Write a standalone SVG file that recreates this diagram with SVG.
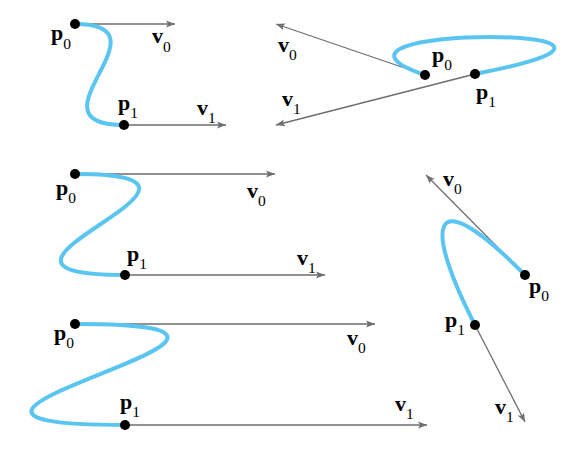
<svg xmlns="http://www.w3.org/2000/svg" width="575" height="450" viewBox="0 0 575 450">
<style>
.vec{stroke:#6e6e6e;stroke-width:1.3;fill:none;marker-end:url(#ah)}
.crv{stroke:#5ac5f0;stroke-width:4;fill:none;stroke-linecap:round}
.dot{fill:#000}
.lb{font-family:"Liberation Serif","Times New Roman",serif;font-weight:bold;font-size:22px;fill:#000}
.sb{font-weight:normal;font-size:15.5px}
</style>
<defs>
<marker id="ah" markerWidth="10" markerHeight="8" refX="9" refY="4" orient="auto" markerUnits="userSpaceOnUse">
<path d="M0,0.5 L9,4 L0,7.5 L2,4 z" fill="#6e6e6e"/>
</marker>
</defs>
<rect width="575" height="450" fill="#fff"/>
<g id="connectors">
<line class="vec" x1="75" y1="24" x2="175" y2="24"/>
<line class="vec" x1="124" y1="125" x2="226" y2="125"/>
<line class="vec" x1="425" y1="75" x2="276" y2="24"/>
<line class="vec" x1="475" y1="74" x2="276" y2="125"/>
<line class="vec" x1="75" y1="174" x2="275" y2="174"/>
<line class="vec" x1="125" y1="275" x2="325" y2="275"/>
<line class="vec" x1="525" y1="275" x2="426" y2="175"/>
<line class="vec" x1="475" y1="325" x2="525" y2="422"/>
<line class="vec" x1="75" y1="324" x2="375" y2="324"/>
<line class="vec" x1="125" y1="425" x2="427" y2="425"/>
<text class="lb" x="152" y="43">v<tspan class="sb" dy="9">0</tspan></text>
<text class="lb" x="197" y="115">v<tspan class="sb" dy="8">1</tspan></text>
<text class="lb" x="278" y="52">v<tspan class="sb" dy="8">0</tspan></text>
<text class="lb" x="282" y="106">v<tspan class="sb" dy="8">1</tspan></text>
<text class="lb" x="247" y="198">v<tspan class="sb" dy="8">0</tspan></text>
<text class="lb" x="297" y="265">v<tspan class="sb" dy="8">1</tspan></text>
<text class="lb" x="443" y="186">v<tspan class="sb" dy="8">0</tspan></text>
<text class="lb" x="495" y="414">v<tspan class="sb" dy="8">1</tspan></text>
<text class="lb" x="347" y="345">v<tspan class="sb" dy="8">0</tspan></text>
<text class="lb" x="395" y="411">v<tspan class="sb" dy="8">1</tspan></text>
</g>
<g id="curves">
<path class="crv" d="M75,24 C175,24 22,125 124,125"/>
<path class="crv" d="M425,75 C276,24 730,25 475,74"/>
<path class="crv" d="M75,174 C275,174 -75,275 125,275"/>
<path class="crv" d="M525,275 C426,175 425,228 475,325"/>
<path class="crv" d="M75,324 C375,324 -177,425 125,425"/>
</g>
<g id="p0-a"><circle class="dot" cx="75" cy="24" r="5"/><text class="lb" x="51" y="40">p<tspan class="sb" dy="9">0</tspan></text></g>
<g id="p1-a"><circle class="dot" cx="124" cy="125" r="5"/><text class="lb" x="118" y="110">p<tspan class="sb" dy="8">1</tspan></text></g>
<g id="p0-b"><circle class="dot" cx="425" cy="75" r="5"/><text class="lb" x="432" y="62">p<tspan class="sb" dy="8">0</tspan></text></g>
<g id="p1-b"><circle class="dot" cx="475" cy="74" r="5"/><text class="lb" x="476" y="99">p<tspan class="sb" dy="8">1</tspan></text></g>
<g id="p0-c"><circle class="dot" cx="75" cy="174" r="5"/><text class="lb" x="56" y="195">p<tspan class="sb" dy="8">0</tspan></text></g>
<g id="p1-c"><circle class="dot" cx="125" cy="275" r="5"/><text class="lb" x="127" y="261">p<tspan class="sb" dy="8">1</tspan></text></g>
<g id="p0-d"><circle class="dot" cx="525" cy="275" r="5"/><text class="lb" x="529" y="293">p<tspan class="sb" dy="8">0</tspan></text></g>
<g id="p1-d"><circle class="dot" cx="475" cy="325" r="5"/><text class="lb" x="445" y="327">p<tspan class="sb" dy="8">1</tspan></text></g>
<g id="p0-e"><circle class="dot" cx="75" cy="324" r="5"/><text class="lb" x="54" y="340">p<tspan class="sb" dy="8">0</tspan></text></g>
<g id="p1-e"><circle class="dot" cx="125" cy="425" r="5"/><text class="lb" x="120" y="409">p<tspan class="sb" dy="8">1</tspan></text></g>
</svg>
